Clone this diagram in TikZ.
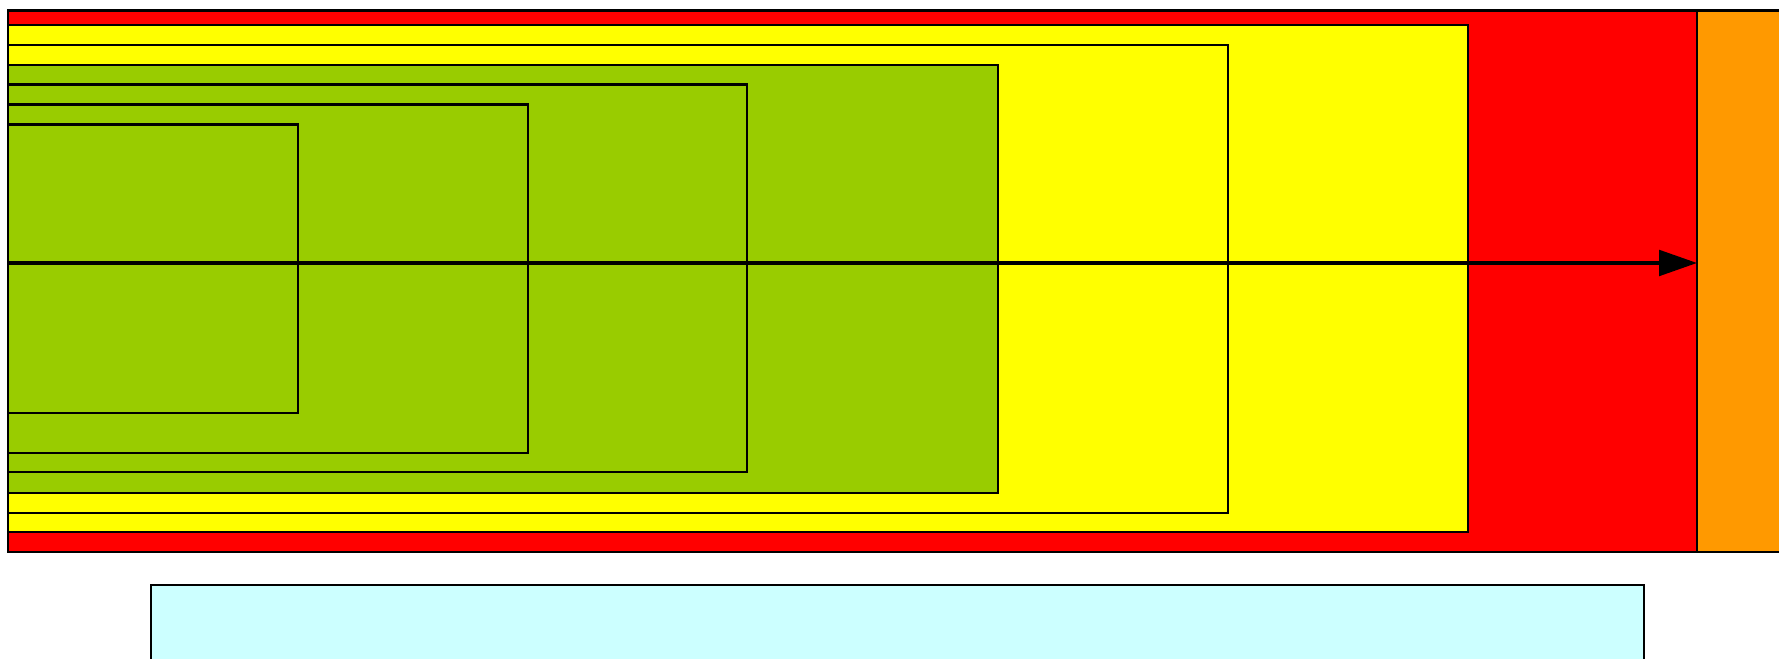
\documentclass[tikz,border=0pt]{standalone}
\usetikzlibrary{arrows.meta,positioning}
\definecolor{boxred}{RGB}{255,0,0}
\definecolor{boxyellow}{RGB}{255,255,0}
\definecolor{boxgreen}{RGB}{153,204,0}
\definecolor{boxorange}{RGB}{255,153,0}
\definecolor{boxcyan}{RGB}{204,255,255}
\tikzset{
  lbox/.style   ={rectangle, draw=black, line width=0.6pt, inner sep=0pt,
                  outer sep=0pt, anchor=north west},
  lred/.style   ={lbox, fill=boxred},
  lorange/.style={lbox, fill=boxorange},
  lcyan/.style  ={lbox, fill=boxcyan},
  larrow/.style ={-{Triangle[length=10.8pt, width=7.3pt]}, line width=0.95pt, black},
}

\begin{document}
\begin{tikzpicture}[x=0.01cm, y=-0.01cm]
  \useasboundingbox (0,0) rectangle (1779,659);
  \clip (0,0) rectangle (1779,659);

  % ---- outer band ---------------------------------------------------------
  \node[lred, minimum width=16.88cm, minimum height=5.415cm] (outer) at (8,10.5) {};
  \node[lorange, minimum width=1.4cm, minimum height=5.415cm, right=0pt of outer.north east,
        anchor=north west] (orange) {};

  % ---- nested boxes, all flush left ---------------------------------------
  \foreach \n/\c/\w/\t/\h in {ya/boxyellow/14.587/25/5.07,
                              yb/boxyellow/12.197/45/4.675,
                              ga/boxgreen/9.897/65/4.275,
                              gb/boxgreen/7.39/84.5/3.875,
                              gc/boxgreen/5.2/104.5/3.48,
                              gd/boxgreen/2.895/124.5/2.885} {
    \node[lbox, fill=\c, minimum width=\w cm, minimum height=\h cm] (\n) at (8,\t) {};
  }

  % ---- axis into the orange band ------------------------------------------
  \coordinate (axisstart) at (7,263);
  \draw[larrow] (axisstart) -- (axisstart -| orange.west);

  % ---- box below ----------------------------------------------------------
  \node[lcyan, minimum width=14.917cm, minimum height=1.5cm] (lower) at (151,585) {};
\end{tikzpicture}
\end{document}
